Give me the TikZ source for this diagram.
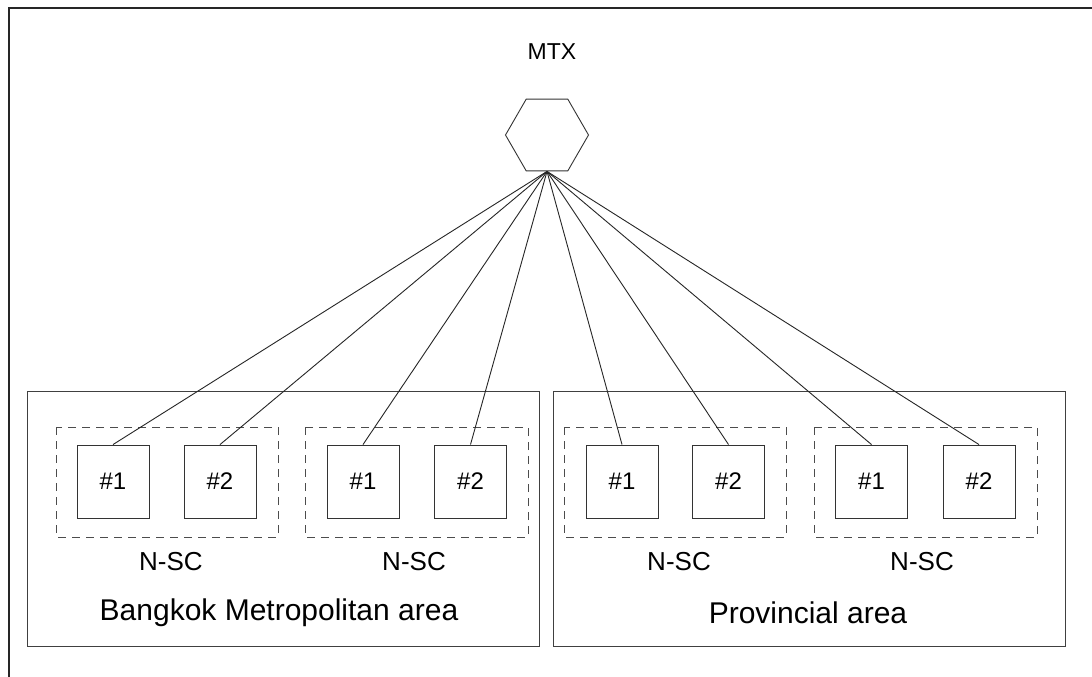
\documentclass[tikz,border=0pt]{standalone}
\usepackage{fontspec}
\setmainfont{Liberation Sans}
\usetikzlibrary{shapes.geometric}
\begin{document}
\begin{tikzpicture}[x=1pt,y=-1pt,
  line join=miter,
  unitbox/.style={draw=black!80, line width=0.9pt, minimum width=72pt, minimum height=73pt, inner sep=0pt, font=\fontsize{24}{28}\selectfont},
  groupbox/.style={draw=black!70, line width=0.9pt, dash pattern=on 8pt off 6pt},
  areabox/.style={draw=black!75, line width=0.9pt},
  link/.style={draw=black!85, line width=0.9pt},
  lbl/.style={inner sep=0pt, font=\fontsize{26}{30}\selectfont},
  arealbl/.style={inner sep=0pt, font=\fontsize{30}{34}\selectfont}]
\useasboundingbox (0,0) rectangle (1092,677);
\fill[white] (0,0) rectangle (1092,677);
% outer frame
\draw[black!85, line width=1.6pt] (9,677) -- (9,8) -- (1092,8);
% areas
\draw[areabox] (27,391) rectangle (539,646);
\draw[areabox] (553,391) rectangle (1065,646);
\node[arealbl] (bkk) at (279,613) {Bangkok Metropolitan area};
\node[arealbl] (prov) at (808,613) {Provincial area};
% dashed groups
\draw[groupbox] (56,427) rectangle (278,537);
\draw[groupbox] (305,427) rectangle (528,537);
\draw[groupbox] (564,427) rectangle (786,537);
\draw[groupbox] (814,427) rectangle (1037,537);
\node[lbl] (g1) at (171,562) {N-SC};
\node[lbl] (g2) at (414,562) {N-SC};
\node[lbl] (g3) at (679,562) {N-SC};
\node[lbl] (g4) at (922,562) {N-SC};
% units
\node[unitbox] (a1) at (113,481.5) {\#1};
\node[unitbox] (a2) at (220,481.5) {\#2};
\node[unitbox] (b1) at (363,481.5) {\#1};
\node[unitbox] (b2) at (470.5,481.5) {\#2};
\node[unitbox] (c1) at (622,481.5) {\#1};
\node[unitbox] (c2) at (728.5,481.5) {\#2};
\node[unitbox] (d1) at (871.5,481.5) {\#1};
\node[unitbox] (d2) at (979,481.5) {\#2};
% MTX
\node[regular polygon, regular polygon sides=6, draw=black!80, line width=0.9pt, minimum size=83pt, inner sep=0pt] (mtx) at (547,135) {};
\node[inner sep=0pt, font=\fontsize{23}{27}\selectfont] (mtxl) at (552,52) {MTX};
% links
\foreach \n in {a1,a2,b1,b2,c1,c2,d1,d2}
  \draw[link] (mtx.south) -- (\n.north);
\end{tikzpicture}
\end{document}
